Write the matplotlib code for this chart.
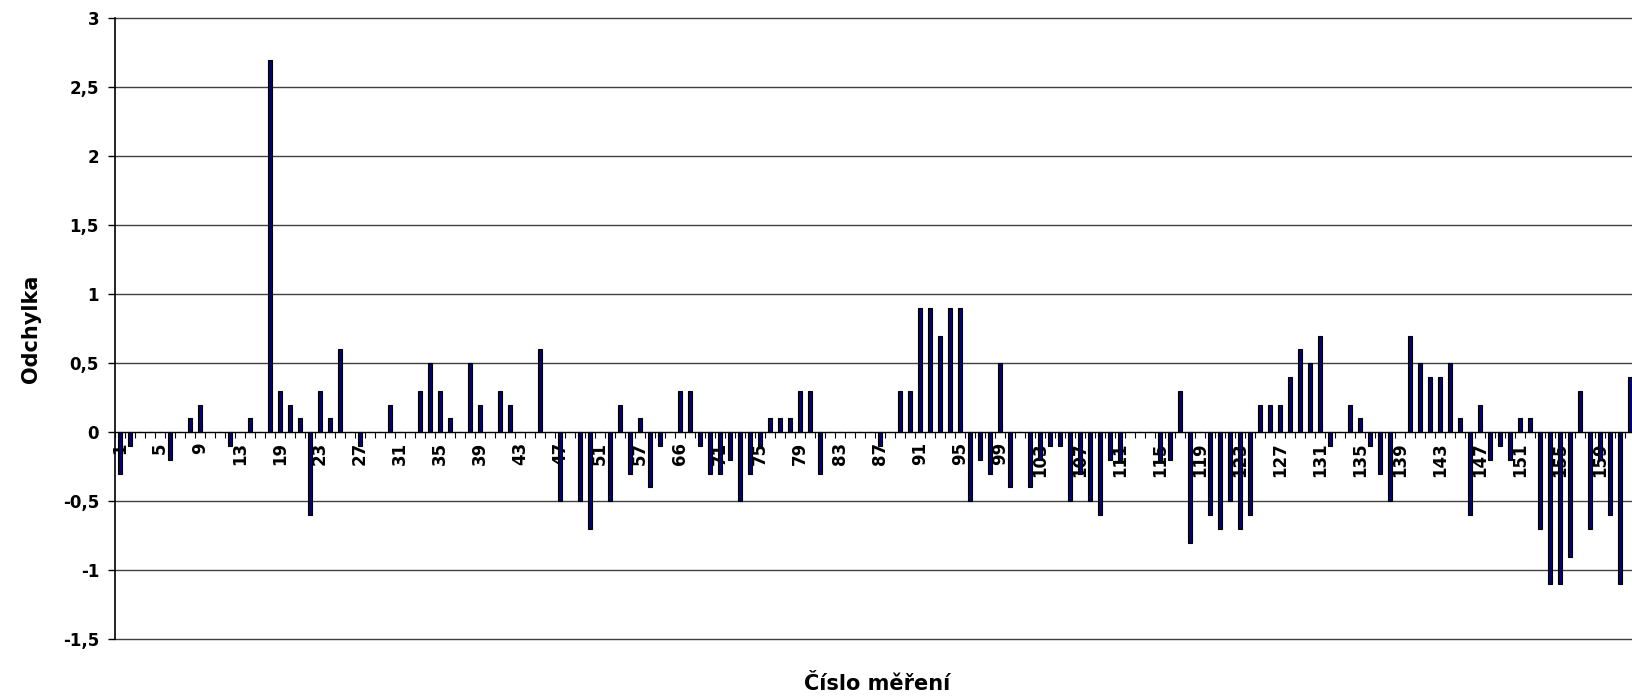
import numpy as np
import matplotlib
matplotlib.use("Agg")
import matplotlib.pyplot as plt
from matplotlib.ticker import FixedLocator, FuncFormatter, MultipleLocator

plt.rcParams['font.family'] = ['DejaVu Sans']
plt.rcParams['font.weight'] = 'bold'

# odchylky jednotlivych mereni (poradi sloupcu zleva doprava)
odchylka = [
    -0.3, -0.1, 0, 0, 0, -0.2, 0, 0.1, 0.2, 0,
    0, -0.1, 0, 0.1, 0, 2.7, 0.3, 0.2, 0.1, -0.6,
    0.3, 0.1, 0.6, 0, -0.1, 0, 0, 0.2, 0, 0,
    0.3, 0.5, 0.3, 0.1, 0, 0.5, 0.2, 0, 0.3, 0.2,
    0, 0, 0.6, 0, -0.5, 0, -0.5, -0.7, 0, -0.5,
    0.2, -0.3, 0.1, -0.4, -0.1, 0, 0.3, 0.3, -0.1, -0.3,
    -0.3, -0.2, -0.5, -0.3, -0.1, 0.1, 0.1, 0.1, 0.3, 0.3,
    -0.3, 0, 0, 0, 0, 0, -0.1, 0, 0.3, 0.3,
    0.9, 0.9, 0.7, 0.9, 0.9, -0.5, -0.2, -0.3, 0.5, -0.4,
    0, -0.4, -0.2, -0.1, -0.1, -0.5, -0.3, -0.5, -0.6, -0.2,
    -0.2, 0, 0, 0, -0.2, -0.2, 0.3, -0.8, 0, -0.6,
    -0.7, -0.5, -0.7, -0.6, 0.2, 0.2, 0.2, 0.4, 0.6, 0.5,
    0.7, -0.1, 0, 0.2, 0.1, -0.1, -0.3, -0.5, 0, 0.7,
    0.5, 0.4, 0.4, 0.5, 0.1, -0.6, 0.2, -0.2, -0.1, -0.2,
    0.1, 0.1, -0.7, -1.1, -1.1, -0.9, 0.3, -0.7, -0.2, -0.6,
    -1.1, 0.4,
]

# cisla mereni popsana na ose x (kazdy ctvrty sloupec)
popisky = ["1", "5", "9", "13", "19", "23", "27", "31", "35", "39",
           "43", "47", "51", "57", "66", "71", "75", "79", "83", "87",
           "91", "95", "99", "103", "107", "111", "115", "119", "123", "127",
           "131", "135", "139", "143", "147", "151", "155", "159"]

W, H = 1632, 698
fig = plt.figure(figsize=(W / 100, H / 100), dpi=100)
ax = fig.add_axes([115 / W, 1 - 639.3 / H, 1 - 115 / W, (639.3 - 18.3) / H])

x = np.arange(len(odchylka))
ax.bar(x, odchylka, width=0.48, color='#000080', edgecolor='black',
       linewidth=0.8, zorder=3)

ax.set_xlim(-0.5, 151.2)
ax.set_ylim(-1.5, 3)

# osa y
ax.yaxis.set_major_locator(MultipleLocator(0.5))


def carka(v, pos):
    if abs(v) < 1e-9:
        v = 0
    return f"{v:g}".replace('.', ',')


ax.yaxis.set_major_formatter(FuncFormatter(carka))
ax.tick_params(axis='y', length=5, width=1, pad=6.5, labelsize=12,
               color='black')
ax.yaxis.grid(True, color='#404040', linewidth=1)
for g in ax.get_ygridlines():
    g.set_clip_on(False)
ax.set_axisbelow(True)

# osa x v nule, popisky svisle
ax.spines['top'].set_visible(False)
ax.spines['right'].set_visible(False)
ax.spines['bottom'].set_position(('data', 0))
ax.spines['bottom'].set_zorder(4)
ax.spines['left'].set_linewidth(1.2)
ax.xaxis.set_major_locator(FixedLocator(np.arange(len(popisky)) * 4))
ax.set_xticklabels(popisky, rotation=90)
ax.xaxis.set_minor_locator(FixedLocator(np.arange(-0.5, 152, 1)))
ax.tick_params(axis='x', which='major', length=0, pad=7, labelsize=12)
ax.tick_params(axis='x', which='minor', length=4, width=0.8, direction='out')

fig.text(31 / W, 1 - 328.8 / H, "Odchylka", rotation=90, ha='center',
         va='center', fontsize=15)
fig.text(877 / W, 1 - 684 / H, "Číslo měření", ha='center', va='center',
         fontsize=15)

fig.savefig("out.png", dpi=100)
